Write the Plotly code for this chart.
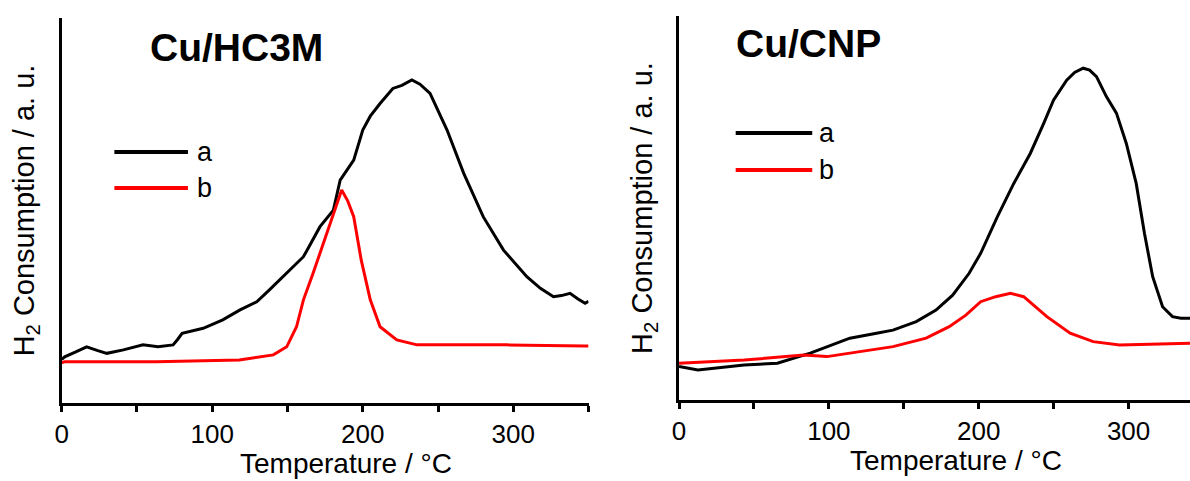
import plotly.graph_objects as go

# ---------------- data ----------------
# Cu/HC3M panel (temperature in °C, signal in arbitrary units)
hc3m_a_T = [0, 2, 9, 16.6, 24, 30, 41, 54, 64, 74, 77, 80, 94, 107, 118.5, 129.6, 138, 149.5, 160.6, 163, 169.4, 171.6,
            180.5, 185, 194, 200, 205, 211.5, 220, 226, 232.6, 238, 244.7, 256, 267, 280, 293.5, 309, 318, 326.7, 332, 337.7, 343, 347.7, 350]
hc3m_a_y = [11.3, 12.0, 13.2, 14.6, 13.6, 12.9, 13.8, 15.1, 14.6, 15.1, 16.5, 18.1, 19.4, 21.6, 24.2, 26.3, 29.4, 33.7, 38.0, 39.7, 44.1, 45.8,
            50.1, 57.9, 63.1, 70.9, 74.5, 77.8, 81.7, 82.5, 83.9, 82.8, 80.4, 70.9, 59.7, 48.4, 39.7, 32.8, 29.8, 27.6, 27.9, 28.5, 27.0, 25.9, 26.4]
hc3m_b_T = [0, 2, 63, 118, 140.6, 149.5, 156, 160.6, 167, 174, 180.5, 186, 190, 194, 199, 205, 211.5, 222.6, 236, 295.7, 347.5, 350]
hc3m_b_y = [10.5, 10.7, 10.7, 11.2, 12.5, 14.6, 19.8, 26.8, 33.7, 41.5, 49.3, 55.3, 52.5, 48.4, 37.1, 26.8, 19.8, 16.4, 15.1, 15.1, 14.8, 14.8]

# Cu/CNP panel
cnp_a_T = [0, 12.6, 43.5, 65.6, 87.6, 98.7, 114, 131.8, 142.8, 158.3, 171.5, 182.6, 193.6, 201.3, 212.4, 223.4, 234.4, 243.3,
           249.9, 258.7, 264, 269.7, 274, 278.6, 285.2, 291.9, 298.5, 305.1, 310.6, 316.1, 322.7, 329.3, 335, 341]
cnp_a_y = [8.7, 7.8, 9.1, 9.6, 12.2, 13.9, 16.1, 17.4, 18.2, 20.4, 23.4, 27.3, 33.0, 38.2, 47.7, 56.4, 64.2, 72.0,
           78.1, 83.3, 85.3, 86.4, 85.9, 84.2, 79.0, 74.7, 66.8, 56.4, 43.4, 32.1, 24.3, 21.7, 21.3, 21.3]
cnp_b_T = [0, 43.5, 83.2, 98.7, 120.7, 142.8, 164.9, 180.3, 191.4, 201.3, 211.3, 221.2, 230, 245.5, 261, 276.4, 294, 341]
cnp_b_y = [9.6, 10.4, 11.7, 11.3, 12.6, 13.9, 16.1, 19.1, 22.1, 25.6, 26.9, 27.8, 26.9, 21.7, 17.4, 15.2, 14.3, 14.8]

series_names = ["a", "b"]
series_colors = ["#000000", "#ff0000"]
panel_titles = ["Cu/HC3M", "Cu/CNP"]
x_title = "Temperature / °C"
y_title = "H<sub>2</sub> Consumption / a. u."
x_tickvals = [0, 50, 100, 150, 200, 250, 300, 350]
x_ticktext = ["0", "", "100", "", "200", "", "300", ""]

FONT = "Liberation Sans, Arial, sans-serif"
W, H = 1190, 481

fig = go.Figure()
panels = [("x", "y", hc3m_a_T, hc3m_a_y, hc3m_b_T, hc3m_b_y),
          ("x2", "y2", cnp_a_T, cnp_a_y, cnp_b_T, cnp_b_y)]
for xa, ya, aT, ay, bT, by in panels:
    fig.add_trace(go.Scatter(x=aT, y=ay, mode="lines", name=series_names[0], showlegend=False,
                             line=dict(color=series_colors[0], width=3), xaxis=xa, yaxis=ya))
    fig.add_trace(go.Scatter(x=bT, y=by, mode="lines", name=series_names[1], showlegend=False,
                             line=dict(color=series_colors[1], width=3), xaxis=xa, yaxis=ya))

xaxis_common = dict(
    tickvals=x_tickvals, ticktext=x_ticktext, ticks="outside", ticklen=6, tickwidth=2.5,
    tickcolor="black", showline=True, linecolor="black", linewidth=2.5, showgrid=False,
    zeroline=False, tickfont=dict(family=FONT, size=26, color="black"),
)
yaxis_common = dict(
    range=[0, 100], showticklabels=False, ticks="", showline=True, linecolor="black",
    linewidth=2.5, showgrid=False, zeroline=False,
    title=dict(text=y_title, font=dict(family=FONT, size=29, color="black"), standoff=16),
)

# legend keys (paper coordinates) and labels
legend_layout = [  # (line x0, line x1, y for a, y for b, label x)
    (108, 182, 152, 188, 189),
    (733, 810, 133, 170, 815),
]
shapes = []
annotations = []
for x0, x1, ya_, yb_, lx in legend_layout:
    for name, color, yy in zip(series_names, series_colors, [ya_, yb_]):
        shapes.append(dict(type="line", xref="paper", yref="paper", x0=x0 / W, x1=x1 / W,
                           y0=1 - yy / H, y1=1 - yy / H, line=dict(color=color, width=4)))
        annotations.append(dict(text=name, xref="paper", yref="paper", x=lx / W, y=1 - yy / H,
                                xanchor="left", yanchor="middle", showarrow=False,
                                font=dict(family=FONT, size=27, color="black")))

annotations += [
    dict(text=panel_titles[0], xref="paper", yref="paper", x=142 / W, y=1 - 47 / H,
         xanchor="left", yanchor="middle", showarrow=False,
         font=dict(family=FONT, size=39, color="black", weight="bold")),
    dict(text=panel_titles[1], xref="paper", yref="paper", x=731 / W, y=1 - 43 / H,
         xanchor="left", yanchor="middle", showarrow=False,
         font=dict(family=FONT, size=39, color="black", weight="bold")),
    dict(text=x_title, xref="paper", yref="paper", x=341 / W, y=1 - 463 / H,
         xanchor="center", yanchor="middle", showarrow=False,
         font=dict(family=FONT, size=28, color="black")),
    dict(text=x_title, xref="paper", yref="paper", x=955 / W, y=1 - 460 / H,
         xanchor="center", yanchor="middle", showarrow=False,
         font=dict(family=FONT, size=28, color="black")),
]

fig.update_layout(
    width=W, height=H,
    margin=dict(l=0, r=0, t=0, b=0),
    paper_bgcolor="white", plot_bgcolor="white",
    xaxis=dict(domain=[55 / W, 585 / W], range=[0, 350], anchor="y", **xaxis_common),
    yaxis=dict(domain=[1 - 403 / H, 1 - 18 / H], anchor="x", **yaxis_common),
    xaxis2=dict(domain=[676 / W, 1.0], range=[0, 341], anchor="y2", **xaxis_common),
    yaxis2=dict(domain=[1 - 400 / H, 1 - 16 / H], anchor="x2", **yaxis_common),
    shapes=shapes,
    annotations=annotations,
    showlegend=False,
)

fig.write_html("out.html")
